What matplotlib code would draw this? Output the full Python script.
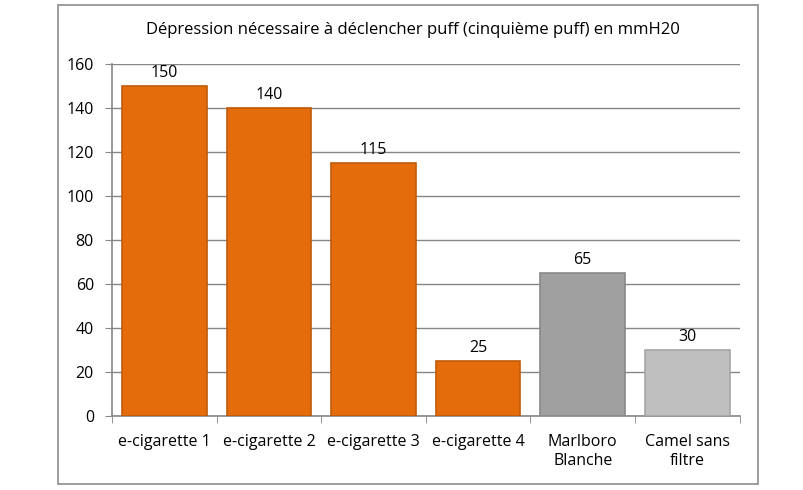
import matplotlib
matplotlib.use("Agg")
import matplotlib.pyplot as plt
from matplotlib.patches import Rectangle
import numpy as np

plt.rcParams['font.family'] = ['Open Sans', 'DejaVu Sans']

# data
categories = ["e-cigarette 1", "e-cigarette 2", "e-cigarette 3", "e-cigarette 4",
              "Marlboro\nBlanche", "Camel sans\nfiltre"]
values = [150, 140, 115, 25, 65, 30]
colors = ["#E46C0A", "#E46C0A", "#E46C0A", "#E46C0A", "#A0A0A0", "#BFBFBF"]
edges = ["#C05A08", "#C05A08", "#C05A08", "#C05A08", "#888888", "#A5A5A5"]
title = "Dépression nécessaire à déclencher puff (cinquième puff) en mmH20"

fig = plt.figure(figsize=(8.04, 4.9), dpi=100)
ax = fig.add_axes([0.1393, 0.151, 0.7806, 0.718])

# outer chart border
fig.patches.append(Rectangle((58/804, 1-484/490), 700/804, 479/490,
                             transform=fig.transFigure, fill=False,
                             edgecolor="#8C8C8C", linewidth=1.2))

x = np.arange(len(categories))
bars = ax.bar(x, values, width=0.81, color=colors, edgecolor=edges, linewidth=1.2, zorder=3)

for xi, v in zip(x, values):
    ax.text(xi, v + 2.5, str(v), ha="center", va="bottom", fontsize=11.5, color="#000000")

ax.set_xlim(-0.5, len(categories) - 0.5)
ax.set_ylim(0, 160)
ax.set_yticks(range(0, 161, 20))
ax.set_xticks(x)
ax.set_xticklabels(categories, fontsize=11.5, linespacing=1.25)
ax.set_xticks(np.arange(-0.5, len(categories)), minor=True)
ax.tick_params(axis="x", which="major", length=0, pad=13)
ax.tick_params(axis="x", which="minor", length=5, color="#868686")
ax.tick_params(axis="y", length=5, color="#868686", labelsize=11.5, pad=8)

ax.grid(axis="y", color="#868686", linewidth=1, zorder=0)
for s in ["top", "right"]:
    ax.spines[s].set_visible(False)
for s in ["left", "bottom"]:
    ax.spines[s].set_color("#868686")
    ax.spines[s].set_linewidth(1.2)

fig.text(0.5 * (142 + 684) / 804, 1 - 30 / 490, title, ha="center", va="center", fontsize=12)

fig.savefig("out.png", dpi=100)
